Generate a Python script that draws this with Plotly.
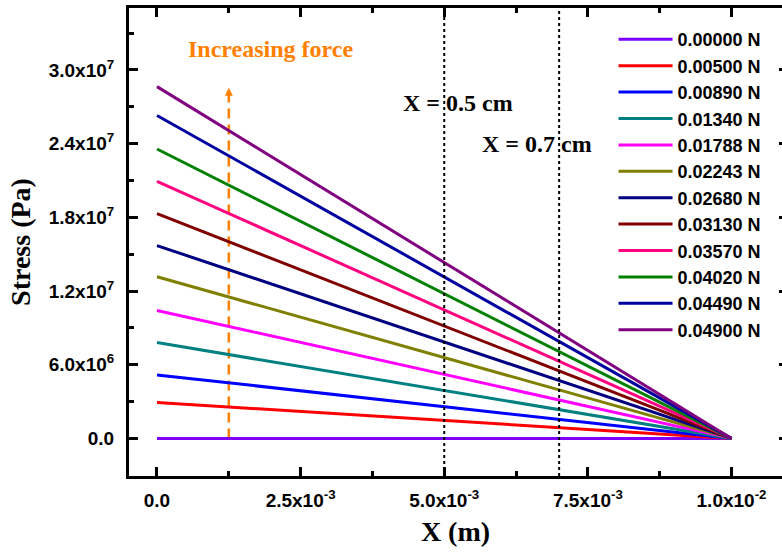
import plotly.graph_objects as go

# ---- data ----
x_m = [0.0, 0.01]
force_labels = ["0.00000 N", "0.00500 N", "0.00890 N", "0.01340 N", "0.01788 N",
                "0.02243 N", "0.02680 N", "0.03130 N", "0.03570 N", "0.04020 N",
                "0.04490 N", "0.04900 N"]
stress_at_x0 = [0.0, 2.92e6, 5.17e6, 7.80e6, 1.042e7, 1.316e7, 1.570e7, 1.830e7,
                2.093e7, 2.356e7, 2.629e7, 2.864e7]
stress_at_end = [0.0] * 12

x_tickvals = [0.0, 0.0025, 0.005, 0.0075, 0.01]
x_ticktext = ["0.0", "2.5x10<sup>-3</sup>", "5.0x10<sup>-3</sup>", "7.5x10<sup>-3</sup>",
              "1.0x10<sup>-2</sup>"]
y_tickvals = [0.0, 6e6, 1.2e7, 1.8e7, 2.4e7, 3.0e7]
y_ticktext = ["0.0", "6.0x10<sup>6</sup>", "1.2x10<sup>7</sup>", "1.8x10<sup>7</sup>",
              "2.4x10<sup>7</sup>", "3.0x10<sup>7</sup>"]

marker_lines_x = [0.005, 0.007]
marker_line_labels = ["X = 0.5 cm", "X = 0.7 cm"]
arrow_x = 0.00125
arrow_y = [0.0, 2.854e7]

# ---- styles ----
colors = ["#8000FF", "#FF0000", "#0000FF", "#008080", "#FF00FF", "#808000",
          "#000080", "#800000", "#FF0080", "#008000", "#0000A0", "#800080"]
ORANGE = "#FF8000"
SANS = "Liberation Sans"
SERIF = "Liberation Serif"

X_RANGE = [-4.87e-4, 0.010879]
Y_RANGE = [-3.06e6, 3.504e7]

fig = go.Figure()

# orange dashed "increasing force" arrow
fig.add_trace(go.Scatter(x=[arrow_x, arrow_x], y=arrow_y, mode="lines",
                         line=dict(color=ORANGE, width=2.5, dash="10px,6px"),
                         showlegend=False, hoverinfo="skip"))
fig.add_trace(go.Scatter(x=[arrow_x], y=[arrow_y[1]], mode="markers",
                         marker=dict(symbol="arrow-up", size=8, color=ORANGE),
                         showlegend=False, hoverinfo="skip"))

for lab, s0, s1, c in zip(force_labels, stress_at_x0, stress_at_end, colors):
    fig.add_trace(go.Scatter(x=x_m, y=[s0, s1], mode="lines", name=lab,
                             line=dict(color=c, width=3)))

# invisible trace for right-side ticks
fig.add_trace(go.Scatter(x=[x_m[0]], y=[0], yaxis="y2", mode="markers",
                         marker=dict(opacity=0), showlegend=False, hoverinfo="skip"))

for xv in marker_lines_x:
    fig.add_shape(type="line", xref="x", yref="paper", x0=xv, x1=xv, y0=0, y1=1,
                  line=dict(color="black", width=2, dash="dot"), layer="above")

fig.add_annotation(x=0.00524, y=2.732e7, xref="x", yref="y", text=marker_line_labels[0],
                   showarrow=False, font=dict(family=SERIF, size=24, color="black", weight="bold"))
fig.add_annotation(x=0.006614, y=2.399e7, xref="x", yref="y", text=marker_line_labels[1],
                   showarrow=False, font=dict(family=SERIF, size=24, color="black", weight="bold"))
fig.add_annotation(x=0.001984, y=3.173e7, xref="x", yref="y", text="Increasing force",
                   showarrow=False, font=dict(family=SERIF, size=24, color=ORANGE, weight="bold"))

tickfont = dict(family=SANS, size=19, color="black", weight="bold")

fig.update_layout(
    width=782, height=556,
    margin=dict(l=129, r=0, t=8, b=80, autoexpand=False),
    plot_bgcolor="white", paper_bgcolor="white",
    showlegend=True,
    legend=dict(x=0.742, y=0.972, xanchor="left", yanchor="top",
                font=dict(family=SANS, size=18, color="black", weight="bold"),
                bgcolor="rgba(0,0,0,0)", itemwidth=54, tracegroupgap=0),
    xaxis=dict(range=X_RANGE, tickvals=x_tickvals, ticktext=x_ticktext,
               showgrid=False, zeroline=False, showline=True, linecolor="black",
               linewidth=3, mirror="ticks", ticks="inside", ticklen=9, tickwidth=2.5,
               tickcolor="black", tickfont=tickfont, ticklabelstandoff=5,
               minor=dict(ticks="inside", ticklen=5, tickwidth=2.5, tickcolor="black",
                          dtick=0.00125, tick0=0, showgrid=False),
               title=dict(text="X (m)", standoff=12,
                          font=dict(family=SERIF, size=28, color="black", weight="bold"))),
    yaxis=dict(range=Y_RANGE, tickvals=y_tickvals, ticktext=y_ticktext,
               showgrid=False, zeroline=False, showline=True, linecolor="black",
               linewidth=3, mirror=False, ticks="inside", ticklen=9, tickwidth=2.5,
               tickcolor="black", tickfont=tickfont, ticklabelstandoff=8,
               minor=dict(ticks="inside", ticklen=5, tickwidth=2.5, tickcolor="black",
                          dtick=3e6, tick0=0, showgrid=False),
               title=dict(text="Stress (Pa)", standoff=10,
                          font=dict(family=SERIF, size=28, color="black", weight="bold"))),
    yaxis2=dict(range=Y_RANGE, overlaying="y", side="right", tickvals=y_tickvals,
                showticklabels=False, showgrid=False, zeroline=False, showline=False,
                ticks="inside", ticklen=3, tickwidth=2.5, tickcolor="black"),
)

fig.write_html("out.html", config={"displayModeBar": False},
               post_script="document.body.style.margin='0px';")
